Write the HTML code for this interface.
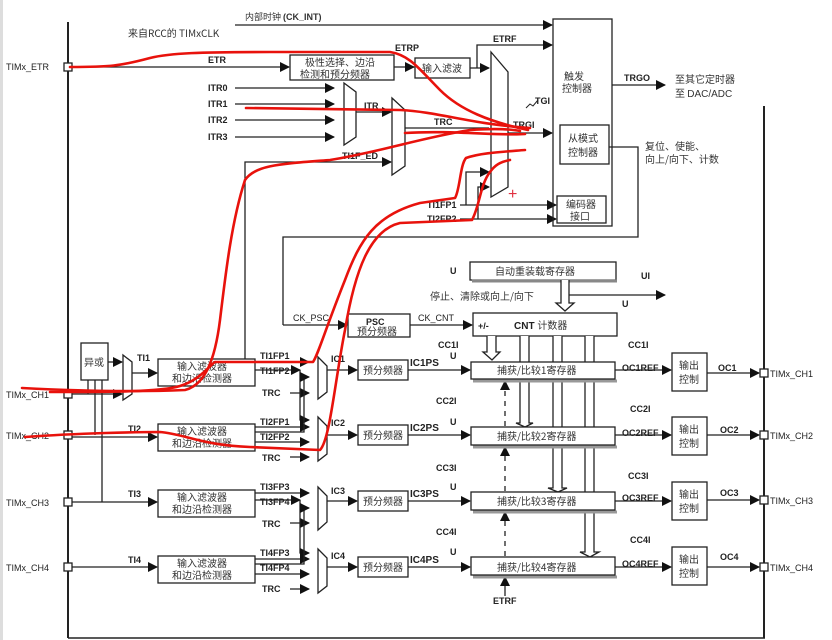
<!DOCTYPE html>
<html><head><meta charset="utf-8"><style>
html,body{margin:0;padding:0;background:#fff;}
svg{display:block;}
text{font-family:"Liberation Sans","Noto Sans CJK SC",sans-serif;font-size:9px;font-weight:bold;fill:#222;}
.c{font-family:"Noto Sans CJK SC","WenQuanYi Zen Hei",sans-serif;font-weight:normal;font-size:10px;fill:#333;}
.n{font-weight:normal;}
</style></head><body>
<svg width="832" height="640" viewBox="0 0 832 640" xmlns="http://www.w3.org/2000/svg">
<defs>
<marker id="a" markerWidth="10" markerHeight="10" refX="9" refY="5" orient="auto" markerUnits="userSpaceOnUse"><path d="M0,0 L10,5 L0,10z" fill="#111"/></marker>
</defs>
<rect x="0" y="0" width="832" height="640" fill="#fff"/>
<rect x="0" y="0" width="3" height="640" fill="#ddd"/>
<g stroke="#222" stroke-width="1.3" fill="none">
<line x1="68" y1="22" x2="68" y2="638" stroke-width="2"/>
<line x1="68" y1="638" x2="765" y2="638" stroke-width="1.5"/>
<line x1="764" y1="106" x2="764" y2="638" stroke-width="2"/>
<line x1="235" y1="25" x2="552" y2="25" marker-end="url(#a)"/>
<line x1="72" y1="67" x2="289" y2="67" marker-end="url(#a)"/>
<rect x="290" y="55" width="104" height="25"/>
<line x1="394" y1="67" x2="414" y2="67" marker-end="url(#a)"/>
<rect x="415" y="58" width="55" height="20"/>
<line x1="470" y1="68" x2="489" y2="68" marker-end="url(#a)"/>
<polyline points="477,68 477,45 552,45" marker-end="url(#a)"/>
<line x1="235" y1="88" x2="334" y2="88" marker-end="url(#a)"/>
<line x1="235" y1="104" x2="334" y2="104" marker-end="url(#a)"/>
<line x1="235" y1="120" x2="334" y2="120" marker-end="url(#a)"/>
<line x1="235" y1="137" x2="334" y2="137" marker-end="url(#a)"/>
<polygon points="344,83 356,92 356,137 344,145"/>
<line x1="356" y1="112" x2="391" y2="112" marker-end="url(#a)"/>
<polygon points="392,98 405,110 405,166 392,175"/>
<polyline points="245,359 245,162 391,162" marker-end="url(#a)"/>
<line x1="405" y1="128" x2="489" y2="128"/>
<polygon points="491,52 508,72 508,187 491,197"/>
<line x1="508" y1="133" x2="552" y2="133" marker-end="url(#a)"/>
<polyline points="283,325 283,237 638,237 638,147 609,147"/>
<line x1="283" y1="325" x2="347" y2="325" marker-end="url(#a)"/>
<line x1="460" y1="205" x2="556" y2="205" marker-end="url(#a)"/>
<line x1="460" y1="219" x2="556" y2="219" marker-end="url(#a)"/>
<polyline points="466,205 466,172 489,172" marker-end="url(#a)"/>
<polyline points="478,219 478,187 489,187" marker-end="url(#a)"/>
<rect x="553" y="19" width="59" height="207"/>
<rect x="560" y="125" width="49" height="39"/>
<rect x="557" y="196" width="49" height="27"/>
<line x1="612" y1="85" x2="665" y2="85" marker-end="url(#a)"/>
<polyline points="526,108 530,104 533,106 538,100" stroke-width="1"/>
<rect x="470" y="262" width="146" height="18"/>
<line x1="472" y1="281" x2="617" y2="281" stroke="#888" stroke-width="3"/>
<path d="M561,280 L561,303 L556,303 L565,311 L574,303 L569,303 L569,280" fill="#fff"/>
<line x1="569" y1="295" x2="665" y2="295" marker-end="url(#a)"/>
<line x1="410" y1="325" x2="472" y2="325" marker-end="url(#a)"/>
<rect x="348" y="314" width="62" height="23"/>
<rect x="473" y="313" width="144" height="23"/>
<path d="M487,336 L487,352 L483,352 L492,360 L500,352 L496,352 L496,336" fill="#fff"/>
<path d="M520,336 L520,423 L516,423 L525,427 L533,423 L529,423 L529,336" fill="#fff"/>
<path d="M553,336 L553,488 L548,488 L558,492 L567,488 L562,488 L562,336" fill="#fff"/>
<path d="M585,336 L585,552 L580,552 L590,557 L599,552 L594,552 L594,336" fill="#fff"/>
<line x1="505" y1="426" x2="505" y2="381" stroke-dasharray="5,5" marker-end="url(#a)"/>
<line x1="505" y1="491" x2="505" y2="447" stroke-dasharray="5,5" marker-end="url(#a)"/>
<line x1="505" y1="556" x2="505" y2="512" stroke-dasharray="5,5" marker-end="url(#a)"/>
<line x1="505" y1="596" x2="505" y2="577" marker-end="url(#a)"/>
<rect x="81" y="343" width="27" height="37"/>
<line x1="108" y1="362" x2="122" y2="362" marker-end="url(#a)"/>
<polygon points="123,355 132,362 132,394 123,400"/>
<line x1="72" y1="394" x2="122" y2="394" marker-end="url(#a)"/>
<line x1="132" y1="373" x2="157" y2="373" marker-end="url(#a)"/>
<line x1="88" y1="380" x2="88" y2="394"/>
<line x1="95" y1="380" x2="95" y2="435"/>
<line x1="102" y1="380" x2="102" y2="502"/>
<line x1="72" y1="437" x2="157" y2="437" marker-end="url(#a)"/>
<line x1="72" y1="502" x2="157" y2="502" marker-end="url(#a)"/>
<line x1="72" y1="567" x2="157" y2="567" marker-end="url(#a)"/>
</g>
<g stroke="#222" stroke-width="1.3" fill="#fff">
<rect x="64" y="63" width="8" height="8"/>
<rect x="64" y="390" width="8" height="8"/>
<rect x="64" y="431" width="8" height="8"/>
<rect x="64" y="498" width="8" height="8"/>
<rect x="64" y="563" width="8" height="8"/>
<rect x="760" y="369" width="8" height="8"/>
<rect x="760" y="431" width="8" height="8"/>
<rect x="760" y="496" width="8" height="8"/>
<rect x="760" y="563" width="8" height="8"/>
</g>
<g stroke="#222" stroke-width="1.3" fill="none">
<rect x="158" y="359" width="97" height="27"/><rect x="158" y="424" width="97" height="27"/><rect x="158" y="490" width="97" height="27"/><rect x="158" y="556" width="97" height="27"/>
<g marker-end="url(#a)">
<line x1="255" y1="362" x2="309" y2="362"/><line x1="255" y1="370" x2="300" y2="370"/><line x1="290" y1="393" x2="309" y2="393"/>
<line x1="255" y1="427" x2="309" y2="427"/><line x1="255" y1="442" x2="309" y2="442"/><line x1="290" y1="457" x2="309" y2="457"/>
<line x1="255" y1="493" x2="309" y2="493"/><line x1="255" y1="500" x2="300" y2="500"/><line x1="290" y1="523" x2="309" y2="523"/>
<line x1="255" y1="559" x2="309" y2="559"/><line x1="255" y1="574" x2="309" y2="574"/><line x1="290" y1="589" x2="309" y2="589"/>
<polyline points="300,370 300,420 309,420" fill="none"/><polyline points="255,432 304,432 304,377 309,377" fill="none"/>
<polyline points="300,500 300,553 309,553" fill="none"/><polyline points="255,564 304,564 304,508 309,508" fill="none"/>
<line x1="327" y1="370" x2="357" y2="370"/><line x1="327" y1="435" x2="357" y2="435"/><line x1="327" y1="501" x2="357" y2="501"/><line x1="327" y1="567" x2="357" y2="567"/>
<line x1="408" y1="370" x2="470" y2="370"/><line x1="408" y1="435" x2="470" y2="435"/><line x1="408" y1="501" x2="470" y2="501"/><line x1="408" y1="567" x2="470" y2="567"/>
<line x1="615" y1="370" x2="671" y2="370"/><line x1="615" y1="435" x2="671" y2="435"/><line x1="615" y1="501" x2="671" y2="501"/><line x1="615" y1="567" x2="671" y2="567"/>
<line x1="707" y1="373" x2="759" y2="373"/><line x1="707" y1="435" x2="759" y2="435"/><line x1="707" y1="500" x2="759" y2="500"/><line x1="707" y1="567" x2="759" y2="567"/>
</g>
<polygon points="318,357 327,366 327,392 318,399"/><polygon points="318,417 327,426 327,454 318,461"/><polygon points="318,487 327,496 327,522 318,530"/><polygon points="318,549 327,558 327,586 318,593"/>
<rect x="358" y="360" width="50" height="20"/><rect x="358" y="425" width="50" height="20"/><rect x="358" y="491" width="50" height="20"/><rect x="358" y="557" width="50" height="20"/>
<g fill="#fff">
<line x1="473" y1="381" x2="617" y2="381" stroke="#999" stroke-width="3"/><line x1="473" y1="447" x2="617" y2="447" stroke="#999" stroke-width="3"/><line x1="473" y1="512" x2="617" y2="512" stroke="#999" stroke-width="3"/><line x1="473" y1="577" x2="617" y2="577" stroke="#999" stroke-width="3"/>
<rect x="471" y="362" width="144" height="17"/><rect x="471" y="427" width="144" height="18"/><rect x="471" y="492" width="144" height="18"/><rect x="471" y="557" width="144" height="18"/>
</g>
<rect x="672" y="353" width="35" height="38"/><rect x="672" y="417" width="35" height="38"/><rect x="672" y="482" width="35" height="38"/><rect x="672" y="547" width="35" height="38"/>
</g>
<text x="245" y="20" class="c" style="font-size:9px">内部时钟 <tspan style="font-family:Liberation Sans;font-weight:bold">(CK_INT)</tspan></text>
<text x="128" y="37" class="c" style="font-size:10px">来自RCC的 TIMxCLK</text>
<text x="6" y="70" class="n">TIMx_ETR</text>
<text x="208" y="63">ETR</text>
<text x="395" y="51">ETRP</text>
<text x="493" y="42">ETRF</text>
<text x="305" y="66" class="c">极性选择、边沿</text>
<text x="300" y="78" class="c">检测和预分频器</text>
<text x="422" y="72" class="c">输入滤波</text>
<text x="208" y="91">ITR0</text><text x="208" y="107">ITR1</text><text x="208" y="123">ITR2</text><text x="208" y="140">ITR3</text>
<text x="364" y="109">ITR</text>
<text x="342" y="159">TI1F_ED</text>
<text x="434" y="125">TRC</text>
<text x="513" y="128">TRGI</text>
<text x="535" y="104">TGI</text>
<text x="427" y="208">TI1FP1</text>
<text x="427" y="222">TI2FP2</text>
<text x="564" y="80" class="c">触发</text>
<text x="562" y="92" class="c">控制器</text>
<text x="568" y="142" class="c">从模式</text>
<text x="568" y="156" class="c">控制器</text>
<text x="566" y="208" class="c">编码器</text>
<text x="570" y="220" class="c">接口</text>
<text x="624" y="81">TRGO</text>
<text x="675" y="83" class="c">至其它定时器</text>
<text x="675" y="97" class="c">至 <tspan style="font-family:Liberation Sans">DAC/ADC</tspan></text>
<text x="645" y="150" class="c">复位、使能、</text>
<text x="645" y="163" class="c">向上/向下、计数</text>
<text x="450" y="274">U</text>
<text x="495" y="275" class="c">自动重装载寄存器</text>
<text x="641" y="279">UI</text>
<text x="622" y="307">U</text>
<text x="430" y="300" class="c">停止、清除或向上/向下</text>
<text x="293" y="321" class="n">CK_PSC</text>
<text x="418" y="321" class="n">CK_CNT</text>
<text x="366" y="325">PSC</text>
<text x="357" y="335" class="c">预分频器</text>
<text x="478" y="329">+/-</text>
<text x="514" y="329" style="font-size:10px">CNT <tspan class="c">计数器</tspan></text>
<text x="6" y="398" class="n">TIMx_CH1</text><text x="6" y="439" class="n">TIMx_CH2</text><text x="6" y="506" class="n">TIMx_CH3</text><text x="6" y="571" class="n">TIMx_CH4</text>
<text x="84" y="366" class="c">异或</text>
<text x="137" y="361">TI1</text><text x="128" y="432">TI2</text><text x="128" y="497">TI3</text><text x="128" y="563">TI4</text>
<text x="177" y="370" class="c">输入滤波器</text><text x="172" y="382" class="c">和边沿检测器</text>
<text x="177" y="435" class="c">输入滤波器</text><text x="172" y="447" class="c">和边沿检测器</text>
<text x="177" y="501" class="c">输入滤波器</text><text x="172" y="513" class="c">和边沿检测器</text>
<text x="177" y="567" class="c">输入滤波器</text><text x="172" y="579" class="c">和边沿检测器</text>
<text x="260" y="359">TI1FP1</text><text x="260" y="374">TI1FP2</text><text x="262" y="396">TRC</text>
<text x="260" y="425">TI2FP1</text><text x="260" y="440">TI2FP2</text><text x="262" y="461">TRC</text>
<text x="260" y="490">TI3FP3</text><text x="260" y="505">TI3FP4</text><text x="262" y="527">TRC</text>
<text x="260" y="556">TI4FP3</text><text x="260" y="571">TI4FP4</text><text x="262" y="592">TRC</text>
<text x="331" y="362">IC1</text><text x="331" y="426">IC2</text><text x="331" y="494">IC3</text><text x="331" y="559">IC4</text>
<text x="363" y="374" class="c">预分频器</text><text x="363" y="439" class="c">预分频器</text><text x="363" y="505" class="c">预分频器</text><text x="363" y="571" class="c">预分频器</text>
<text x="410" y="366" style="font-size:10px">IC1PS</text><text x="410" y="431" style="font-size:10px">IC2PS</text><text x="410" y="497" style="font-size:10px">IC3PS</text><text x="410" y="563" style="font-size:10px">IC4PS</text>
<text x="438" y="348">CC1I</text><text x="436" y="404">CC2I</text><text x="436" y="471">CC3I</text><text x="436" y="535">CC4I</text>
<text x="450" y="359">U</text><text x="450" y="425">U</text><text x="450" y="490">U</text><text x="450" y="555">U</text>
<text x="628" y="348">CC1I</text><text x="630" y="412">CC2I</text><text x="628" y="479">CC3I</text><text x="630" y="543">CC4I</text>
<text x="497" y="374" class="c">捕获/比较1寄存器</text><text x="497" y="440" class="c">捕获/比较2寄存器</text><text x="497" y="505" class="c">捕获/比较3寄存器</text><text x="497" y="571" class="c">捕获/比较4寄存器</text>
<text x="622" y="371">OC1REF</text><text x="622" y="436">OC2REF</text><text x="622" y="501">OC3REF</text><text x="622" y="567">OC4REF</text>
<text x="679" y="369" class="c">输出</text><text x="679" y="383" class="c">控制</text>
<text x="679" y="433" class="c">输出</text><text x="679" y="447" class="c">控制</text>
<text x="679" y="498" class="c">输出</text><text x="679" y="512" class="c">控制</text>
<text x="679" y="563" class="c">输出</text><text x="679" y="577" class="c">控制</text>
<text x="718" y="371">OC1</text><text x="720" y="433">OC2</text><text x="720" y="496">OC3</text><text x="720" y="560">OC4</text>
<text x="770" y="377" class="n">TIMx_CH1</text><text x="770" y="439" class="n">TIMx_CH2</text><text x="770" y="504" class="n">TIMx_CH3</text><text x="770" y="571" class="n">TIMx_CH4</text>
<text x="493" y="604">ETRF</text>
<text x="508" y="199" style="fill:#e03040;font-size:16px;font-weight:normal">+</text>
<g stroke="#e8120c" stroke-width="2.6" fill="none" stroke-linecap="round" stroke-linejoin="round">
<path d="M70,67 C110,67 120,66 150,58 C170,53 200,52 270,52 L390,52 C410,55 420,70 440,90 C460,110 490,122 528,130"/>
<path d="M246,108 L400,110 C440,112 470,124 530,128"/>
<path d="M405,133 C450,130 500,136 525,134"/>
<path d="M22,388 C80,391 140,392 185,390 C205,385 215,360 220,320 C226,270 232,220 245,180 C255,165 280,164 330,160 C380,152 420,138 470,130 C500,128 515,130 520,131"/>
<path d="M50,392 C110,392 160,392 180,386 C200,380 210,365 215,362 L313,362 C318,355 325,330 345,280 C360,240 375,215 420,203 L455,198 C460,190 460,165 466,158 C480,153 500,152 525,150"/>
<path d="M25,437 C80,433 140,432 160,432 C185,434 200,445 250,447 L320,450 C330,440 335,380 345,330 C355,270 370,230 400,223 L472,220 C480,205 480,185 490,172 C495,165 500,162 510,160"/>
</g>
</svg>
</body></html>
